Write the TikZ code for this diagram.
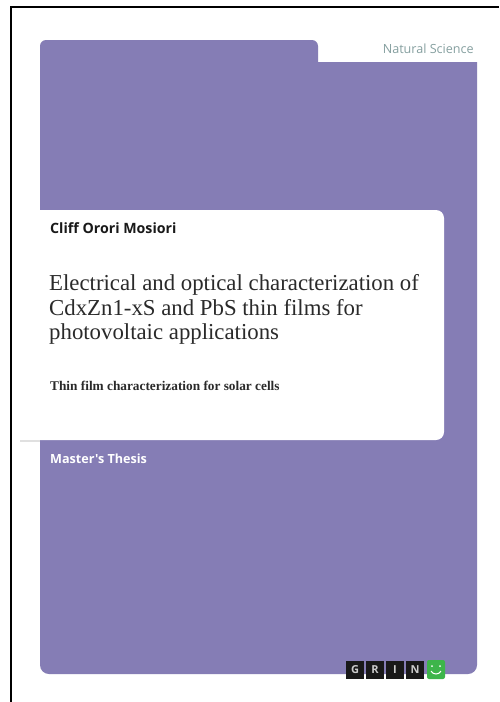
\documentclass[tikz,border=0pt]{standalone}
\usepackage{fontspec}
\setmainfont{Liberation Serif}
\newfontfamily\sansf{Open Sans}
\definecolor{cover}{HTML}{857DB5}
\definecolor{ink}{HTML}{2A2A2A}
\definecolor{fieldc}{HTML}{86A0A0}
\definecolor{smile}{HTML}{3DB54A}
\begin{document}
\begin{tikzpicture}[x=1pt,y=-1pt,
  sans/.style={anchor=base west,inner sep=0pt},
  serif/.style={text=ink,anchor=base west,inner sep=0pt},
  letter/.style={fill=black!90,text=white!80!black,minimum width=18pt,minimum height=18pt,inner sep=0pt,font=\sansf\fontsize{11}{12}\selectfont\bfseries}]
\useasboundingbox (0,0) rectangle (499,702);
\fill[white] (0,0) rectangle (499,702);
% purple cover
\fill[cover] (40,46) arc (180:270:6) -- (312,40) arc (-90:0:6) -- (318,62) -- (477,62) -- (477,665) arc (0:90:9) -- (49,674) arc (90:180:9) -- cycle;
% white panel
\fill[black!12] (20,440) rectangle (40,442);
\fill[white] (40,210) -- (436,210) arc (-90:0:8) -- (444,432) arc (0:90:8) -- (40,440) -- cycle;
% frame
\draw[line width=2pt] (11,702) -- (11,7) -- (499,7);
% texts
\node[font=\sansf\fontsize{12.6}{14}\selectfont,text=fieldc,anchor=base east,inner sep=0pt] (field) at (474,53) {Natural Science};
\node[sans,text=black!90,font=\sansf\fontsize{14.2}{16}\selectfont\bfseries] (author) at (50,233) {Cliff Orori Mosiori};
\node[serif,font=\fontsize{22.8}{24.5}\selectfont] (t1) at (49,290) {Electrical and optical characterization of};
\node[serif,font=\fontsize{22.8}{24.5}\selectfont] (t2) at (49,315) {CdxZn1-xS and PbS thin films for};
\node[serif,font=\fontsize{22.8}{24.5}\selectfont] (t3) at (49,339.5) {photovoltaic applications};
\node[serif,font=\fontsize{13.3}{15}\selectfont\bfseries] (sub) at (50,390) {Thin film characterization for solar cells};
\node[sans,text=white,font=\sansf\fontsize{12.6}{14}\selectfont\bfseries] (type) at (50,463) {Master's Thesis};
% logo
\node[letter] (g) at (355,670) {G};
\node[letter] (r) at (375,670) {R};
\node[letter] (i) at (395,670) {I};
\node[letter] (n) at (415,670) {N};
\fill[smile,rounded corners=2pt] (427,660) rectangle (445,679);
\fill[white] (432,666) circle (1);
\fill[white] (440,666) circle (1);
\draw[white,line width=1pt] (431,671) .. controls (433,675) and (439,675) .. (441,671);
\end{tikzpicture}
\end{document}
